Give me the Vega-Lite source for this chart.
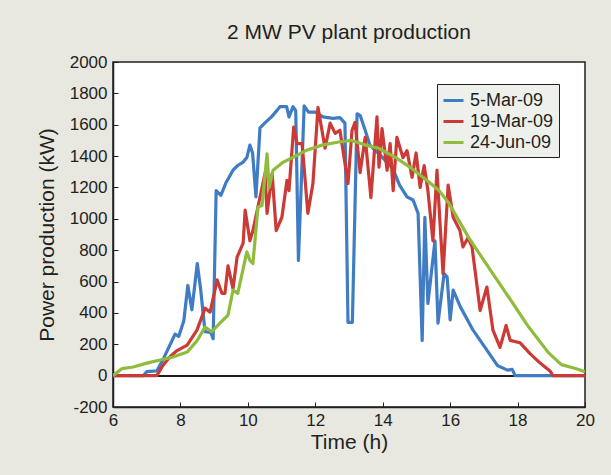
{
  "$schema": "https://vega.github.io/schema/vega-lite/v6.json",
  "width": 472,
  "height": 345,
  "autosize": "none",
  "padding": {"left": 113, "top": 62, "right": 26, "bottom": 68},
  "background": "#e8e8e1",
  "title": {"text": "2 MW PV plant production", "fontSize": 21, "font": "Liberation Sans", "fontWeight": "normal", "color": "#231f20", "offset": 10},
  "config": {
    "view": {"fill": "white", "stroke": "#231f20", "strokeWidth": 1.5},
    "font": "Liberation Sans",
    "axis": {"labelOverlap": false, "labelSeparation": 0, "grid": false, "tickSize": -5,
      "domainColor": "#231f20", "tickColor": "#231f20", "domainWidth": 1.5,
      "labelFontSize": 17, "labelColor": "#231f20", "labelFont": "Liberation Sans", "labelFlush": false,
      "titleFontSize": 21, "titleFontWeight": "normal", "titleColor": "#231f20", "titleFont": "Liberation Sans"},
    "axisX": {"labelPadding": 10, "titlePadding": 3},
    "axisY": {"labelPadding": 11, "titlePadding": 12}
  },
  "data": {"values": [
    {"series":"5-Mar-09","time":6.0,"power":0},
    {"series":"5-Mar-09","time":6.9,"power":0},
    {"series":"5-Mar-09","time":7.0,"power":25},
    {"series":"5-Mar-09","time":7.3,"power":30},
    {"series":"5-Mar-09","time":7.5,"power":110},
    {"series":"5-Mar-09","time":7.7,"power":200},
    {"series":"5-Mar-09","time":7.84,"power":265},
    {"series":"5-Mar-09","time":7.95,"power":250},
    {"series":"5-Mar-09","time":8.1,"power":350},
    {"series":"5-Mar-09","time":8.22,"power":575},
    {"series":"5-Mar-09","time":8.34,"power":420},
    {"series":"5-Mar-09","time":8.5,"power":715},
    {"series":"5-Mar-09","time":8.6,"power":550},
    {"series":"5-Mar-09","time":8.73,"power":280},
    {"series":"5-Mar-09","time":8.9,"power":275},
    {"series":"5-Mar-09","time":8.97,"power":235},
    {"series":"5-Mar-09","time":9.06,"power":1180},
    {"series":"5-Mar-09","time":9.2,"power":1150},
    {"series":"5-Mar-09","time":9.35,"power":1230},
    {"series":"5-Mar-09","time":9.56,"power":1310},
    {"series":"5-Mar-09","time":9.7,"power":1340},
    {"series":"5-Mar-09","time":9.85,"power":1360},
    {"series":"5-Mar-09","time":9.97,"power":1390},
    {"series":"5-Mar-09","time":10.06,"power":1470},
    {"series":"5-Mar-09","time":10.14,"power":1420},
    {"series":"5-Mar-09","time":10.24,"power":1140},
    {"series":"5-Mar-09","time":10.36,"power":1580},
    {"series":"5-Mar-09","time":10.5,"power":1610},
    {"series":"5-Mar-09","time":10.7,"power":1650},
    {"series":"5-Mar-09","time":10.86,"power":1690},
    {"series":"5-Mar-09","time":10.95,"power":1715},
    {"series":"5-Mar-09","time":11.15,"power":1715},
    {"series":"5-Mar-09","time":11.22,"power":1650},
    {"series":"5-Mar-09","time":11.34,"power":1715},
    {"series":"5-Mar-09","time":11.42,"power":1690},
    {"series":"5-Mar-09","time":11.5,"power":735},
    {"series":"5-Mar-09","time":11.67,"power":1720},
    {"series":"5-Mar-09","time":11.8,"power":1680},
    {"series":"5-Mar-09","time":12.0,"power":1680},
    {"series":"5-Mar-09","time":12.23,"power":1650},
    {"series":"5-Mar-09","time":12.53,"power":1640},
    {"series":"5-Mar-09","time":12.73,"power":1645},
    {"series":"5-Mar-09","time":12.88,"power":1610},
    {"series":"5-Mar-09","time":12.97,"power":340},
    {"series":"5-Mar-09","time":13.1,"power":340},
    {"series":"5-Mar-09","time":13.24,"power":1670},
    {"series":"5-Mar-09","time":13.33,"power":1660},
    {"series":"5-Mar-09","time":13.48,"power":1565},
    {"series":"5-Mar-09","time":13.62,"power":1470},
    {"series":"5-Mar-09","time":14.0,"power":1390},
    {"series":"5-Mar-09","time":14.3,"power":1320},
    {"series":"5-Mar-09","time":14.5,"power":1215},
    {"series":"5-Mar-09","time":14.72,"power":1140},
    {"series":"5-Mar-09","time":14.9,"power":1120},
    {"series":"5-Mar-09","time":15.05,"power":1035},
    {"series":"5-Mar-09","time":15.17,"power":225},
    {"series":"5-Mar-09","time":15.25,"power":1010},
    {"series":"5-Mar-09","time":15.34,"power":460},
    {"series":"5-Mar-09","time":15.55,"power":860},
    {"series":"5-Mar-09","time":15.64,"power":335},
    {"series":"5-Mar-09","time":15.82,"power":650},
    {"series":"5-Mar-09","time":15.91,"power":630},
    {"series":"5-Mar-09","time":16.0,"power":355},
    {"series":"5-Mar-09","time":16.09,"power":545},
    {"series":"5-Mar-09","time":16.3,"power":440},
    {"series":"5-Mar-09","time":16.68,"power":290},
    {"series":"5-Mar-09","time":17.1,"power":160},
    {"series":"5-Mar-09","time":17.4,"power":65},
    {"series":"5-Mar-09","time":17.7,"power":35},
    {"series":"5-Mar-09","time":17.84,"power":40},
    {"series":"5-Mar-09","time":17.93,"power":0},
    {"series":"5-Mar-09","time":20.0,"power":0},
    {"series":"19-Mar-09","time":6.0,"power":0},
    {"series":"19-Mar-09","time":7.3,"power":0},
    {"series":"19-Mar-09","time":7.48,"power":65},
    {"series":"19-Mar-09","time":7.69,"power":120},
    {"series":"19-Mar-09","time":7.9,"power":160},
    {"series":"19-Mar-09","time":8.2,"power":195},
    {"series":"19-Mar-09","time":8.49,"power":290},
    {"series":"19-Mar-09","time":8.73,"power":430},
    {"series":"19-Mar-09","time":8.88,"power":405},
    {"series":"19-Mar-09","time":9.09,"power":610},
    {"series":"19-Mar-09","time":9.23,"power":525},
    {"series":"19-Mar-09","time":9.32,"power":525},
    {"series":"19-Mar-09","time":9.41,"power":700},
    {"series":"19-Mar-09","time":9.56,"power":555},
    {"series":"19-Mar-09","time":9.68,"power":755},
    {"series":"19-Mar-09","time":9.86,"power":845},
    {"series":"19-Mar-09","time":9.92,"power":1055},
    {"series":"19-Mar-09","time":10.06,"power":860},
    {"series":"19-Mar-09","time":10.15,"power":925},
    {"series":"19-Mar-09","time":10.51,"power":1290},
    {"series":"19-Mar-09","time":10.57,"power":1035},
    {"series":"19-Mar-09","time":10.72,"power":1290},
    {"series":"19-Mar-09","time":10.84,"power":925},
    {"series":"19-Mar-09","time":11.01,"power":1010},
    {"series":"19-Mar-09","time":11.16,"power":1245},
    {"series":"19-Mar-09","time":11.22,"power":1180},
    {"series":"19-Mar-09","time":11.36,"power":1585},
    {"series":"19-Mar-09","time":11.46,"power":1480},
    {"series":"19-Mar-09","time":11.61,"power":1480},
    {"series":"19-Mar-09","time":11.78,"power":1035},
    {"series":"19-Mar-09","time":11.93,"power":1225},
    {"series":"19-Mar-09","time":12.08,"power":1710},
    {"series":"19-Mar-09","time":12.29,"power":1450},
    {"series":"19-Mar-09","time":12.44,"power":1610},
    {"series":"19-Mar-09","time":12.59,"power":1545},
    {"series":"19-Mar-09","time":12.73,"power":1565},
    {"series":"19-Mar-09","time":12.97,"power":1225},
    {"series":"19-Mar-09","time":13.09,"power":1565},
    {"series":"19-Mar-09","time":13.18,"power":1615},
    {"series":"19-Mar-09","time":13.33,"power":1295},
    {"series":"19-Mar-09","time":13.48,"power":1520},
    {"series":"19-Mar-09","time":13.65,"power":1135},
    {"series":"19-Mar-09","time":13.83,"power":1650},
    {"series":"19-Mar-09","time":13.89,"power":1330},
    {"series":"19-Mar-09","time":13.98,"power":1575},
    {"series":"19-Mar-09","time":14.13,"power":1310},
    {"series":"19-Mar-09","time":14.22,"power":1480},
    {"series":"19-Mar-09","time":14.31,"power":1180},
    {"series":"19-Mar-09","time":14.42,"power":1520},
    {"series":"19-Mar-09","time":14.6,"power":1390},
    {"series":"19-Mar-09","time":14.72,"power":1435},
    {"series":"19-Mar-09","time":14.87,"power":1265},
    {"series":"19-Mar-09","time":14.99,"power":1420},
    {"series":"19-Mar-09","time":15.11,"power":1200},
    {"series":"19-Mar-09","time":15.23,"power":1340},
    {"series":"19-Mar-09","time":15.34,"power":1180},
    {"series":"19-Mar-09","time":15.49,"power":860},
    {"series":"19-Mar-09","time":15.61,"power":1310},
    {"series":"19-Mar-09","time":15.7,"power":970},
    {"series":"19-Mar-09","time":15.79,"power":650},
    {"series":"19-Mar-09","time":15.94,"power":1215},
    {"series":"19-Mar-09","time":16.09,"power":1010},
    {"series":"19-Mar-09","time":16.29,"power":925},
    {"series":"19-Mar-09","time":16.38,"power":820},
    {"series":"19-Mar-09","time":16.53,"power":880},
    {"series":"19-Mar-09","time":16.65,"power":820},
    {"series":"19-Mar-09","time":16.89,"power":415},
    {"series":"19-Mar-09","time":17.09,"power":565},
    {"series":"19-Mar-09","time":17.27,"power":290},
    {"series":"19-Mar-09","time":17.48,"power":180},
    {"series":"19-Mar-09","time":17.66,"power":320},
    {"series":"19-Mar-09","time":17.78,"power":225},
    {"series":"19-Mar-09","time":18.07,"power":210},
    {"series":"19-Mar-09","time":18.37,"power":140},
    {"series":"19-Mar-09","time":18.67,"power":80},
    {"series":"19-Mar-09","time":18.96,"power":30},
    {"series":"19-Mar-09","time":19.05,"power":0},
    {"series":"19-Mar-09","time":20.0,"power":0},
    {"series":"24-Jun-09","time":6.0,"power":0},
    {"series":"24-Jun-09","time":6.27,"power":45},
    {"series":"24-Jun-09","time":6.6,"power":55},
    {"series":"24-Jun-09","time":7.0,"power":80},
    {"series":"24-Jun-09","time":7.4,"power":100},
    {"series":"24-Jun-09","time":7.8,"power":120},
    {"series":"24-Jun-09","time":8.2,"power":150},
    {"series":"24-Jun-09","time":8.5,"power":225},
    {"series":"24-Jun-09","time":8.73,"power":310},
    {"series":"24-Jun-09","time":8.93,"power":280},
    {"series":"24-Jun-09","time":9.17,"power":335},
    {"series":"24-Jun-09","time":9.41,"power":385},
    {"series":"24-Jun-09","time":9.56,"power":545},
    {"series":"24-Jun-09","time":9.7,"power":525},
    {"series":"24-Jun-09","time":9.97,"power":790},
    {"series":"24-Jun-09","time":10.06,"power":735},
    {"series":"24-Jun-09","time":10.15,"power":715},
    {"series":"24-Jun-09","time":10.3,"power":1075},
    {"series":"24-Jun-09","time":10.42,"power":1085},
    {"series":"24-Jun-09","time":10.57,"power":1415},
    {"series":"24-Jun-09","time":10.63,"power":1200},
    {"series":"24-Jun-09","time":10.75,"power":1310},
    {"series":"24-Jun-09","time":11.04,"power":1360},
    {"series":"24-Jun-09","time":11.46,"power":1405},
    {"series":"24-Jun-09","time":11.72,"power":1435},
    {"series":"24-Jun-09","time":12.2,"power":1470},
    {"series":"24-Jun-09","time":12.7,"power":1490},
    {"series":"24-Jun-09","time":13.08,"power":1500},
    {"series":"24-Jun-09","time":13.5,"power":1470},
    {"series":"24-Jun-09","time":13.88,"power":1450},
    {"series":"24-Jun-09","time":14.39,"power":1390},
    {"series":"24-Jun-09","time":14.87,"power":1320},
    {"series":"24-Jun-09","time":15.37,"power":1235},
    {"series":"24-Jun-09","time":15.67,"power":1180},
    {"series":"24-Jun-09","time":15.96,"power":1100},
    {"series":"24-Jun-09","time":16.55,"power":880},
    {"series":"24-Jun-09","time":17.14,"power":690},
    {"series":"24-Jun-09","time":17.74,"power":500},
    {"series":"24-Jun-09","time":18.33,"power":310},
    {"series":"24-Jun-09","time":18.92,"power":145},
    {"series":"24-Jun-09","time":19.3,"power":70},
    {"series":"24-Jun-09","time":19.72,"power":45},
    {"series":"24-Jun-09","time":20.0,"power":25}
  ]},
  "layer": [
    {
      "mark": {"type": "rule", "color": "#231f20", "strokeWidth": 1.5},
      "encoding": {"y": {"datum": 0, "type": "quantitative",
        "scale": {"domain": [-200, 2000], "nice": false, "zero": false},
        "axis": {"title": "Power production (kW)", "values": [-200, 0, 200, 400, 600, 800, 1000, 1200, 1400, 1600, 1800, 2000], "labelExpr": "'' + datum.value"}}}
    },
    {
      "mark": {"type": "line", "strokeWidth": 3.2, "strokeJoin": "round", "clip": true},
      "encoding": {
        "x": {"field": "time", "type": "quantitative",
          "scale": {"domain": [6, 20], "nice": false, "zero": false},
          "axis": {"title": "Time (h)", "values": [6, 8, 10, 12, 14, 16, 18, 20], "labelExpr": "'' + datum.value"}},
        "y": {"field": "power", "type": "quantitative",
          "scale": {"domain": [-200, 2000], "nice": false, "zero": false},
          "axis": {"title": "Power production (kW)", "values": [-200, 0, 200, 400, 600, 800, 1000, 1200, 1400, 1600, 1800, 2000], "labelExpr": "'' + datum.value"}},
        "color": {"field": "series", "type": "nominal",
          "scale": {"domain": ["5-Mar-09", "19-Mar-09", "24-Jun-09"], "range": ["#3f7cc4", "#cc3a36", "#8fbc3c"]},
          "legend": {"title": null, "orient": "none", "legendX": 324, "legendY": 22,
            "fillColor": "#eef0ec", "strokeColor": "#231f20", "padding": 5,
            "symbolType": "stroke", "symbolStrokeWidth": 3, "symbolSize": 400,
            "labelFontSize": 18, "labelColor": "#231f20", "labelFont": "Liberation Sans", "rowPadding": 0, "labelOffset": 5}}
      }
    }
  ]
}
